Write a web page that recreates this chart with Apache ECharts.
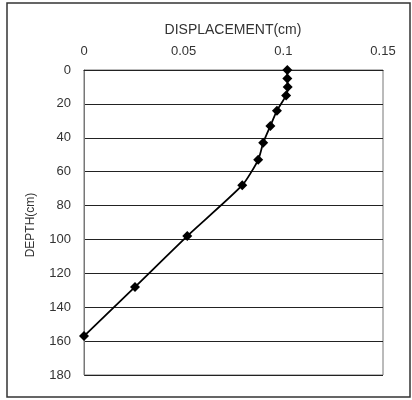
<!DOCTYPE html>
<html>
<head>
<meta charset="utf-8">
<script src="https://cdn.jsdelivr.net/npm/echarts@6/dist/echarts.min.js"></script>
<style>
html,body{margin:0;padding:0;background:#fff;}
#chart{width:412px;height:400px;}
</style>
</head>
<body>
<div id="chart"></div>
<script>
const depth = [0, 5, 10, 15, 24, 33, 43, 53, 68, 98, 128, 157];
const displacement = [0.102, 0.102, 0.1022, 0.1014, 0.0968, 0.0935, 0.0899, 0.0874, 0.0794, 0.0518, 0.0256, 0];
const xTicks = [0, 0.05, 0.1, 0.15];
const yTicks = [0, 20, 40, 60, 80, 100, 120, 140, 160, 180];
const xTitle = 'DISPLACEMENT(cm)';
const yTitle = 'DEPTH(cm)';

const font = 'Liberation Sans, Arial, sans-serif';
const chart = echarts.init(document.getElementById('chart'), null, {renderer: 'canvas'});
chart.setOption({
  animation: false,
  backgroundColor: '#fff',
  grid: {left: 84, right: 29, top: 70, bottom: 25, show: true, borderColor: '#777', borderWidth: 1},
  xAxis: {
    type: 'value', position: 'top',
    min: xTicks[0], max: xTicks[xTicks.length - 1], interval: 0.05,
    axisLine: {show: true, lineStyle: {color: '#222', width: 1}},
    axisTick: {show: false},
    splitLine: {show: false},
    axisLabel: {color: '#333', fontFamily: font, fontSize: 13, margin: 12,
      formatter: v => String(+v.toFixed(2))}
  },
  yAxis: {
    type: 'value', inverse: true,
    min: yTicks[0], max: yTicks[yTicks.length - 1], interval: 20,
    axisLine: {show: true, lineStyle: {color: '#777', width: 1}},
    axisTick: {show: false},
    splitLine: {show: true, lineStyle: {color: '#222', width: 1}},
    axisLabel: {color: '#333', fontFamily: font, fontSize: 13, margin: 13}
  },
  graphic: [
    {type: 'rect', shape: {x: 7, y: 3, width: 403, height: 394}, style: {fill: 'none', stroke: '#333', lineWidth: 1.5}, z: 10},
    {type: 'text', x: 233, y: 30, style: {text: xTitle, fill: '#333', font: '14px ' + font, textAlign: 'center', textVerticalAlign: 'middle'}},
    {type: 'text', x: 31, y: 225, rotation: Math.PI / 2, style: {text: yTitle, fill: '#333', font: '12px ' + font, textAlign: 'center', textVerticalAlign: 'middle'}}
  ],
  series: [{
    type: 'line',
    data: depth.map((d, i) => [displacement[i], d]),
    smooth: 0.2,
    symbol: 'diamond', symbolSize: 10,
    itemStyle: {color: '#000'},
    lineStyle: {color: '#000', width: 1.8},
    z: 5
  }]
});
</script>
</body>
</html>
